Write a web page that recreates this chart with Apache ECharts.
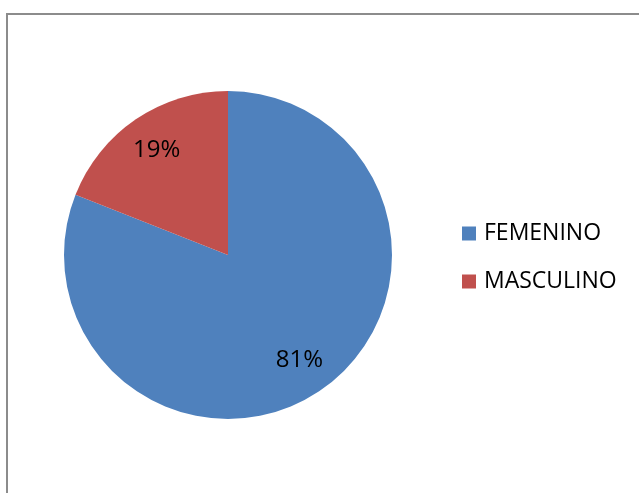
<!DOCTYPE html>
<html>
<head>
<meta charset="utf-8">
<script src="https://cdn.jsdelivr.net/npm/echarts@6/dist/echarts.min.js"></script>
<style>
  html, body { margin: 0; padding: 0; background: #fff; }
  #chart { width: 639px; height: 493px; }
</style>
</head>
<body>
<div id="chart"></div>
<script>
const categories = ['FEMENINO', 'MASCULINO']
const values = [81, 19]
const colors = ['#4F81BD', '#C0504D']

const font = '"Open Sans", sans-serif'
const pieData = categories.map((name, i) => ({ name, value: values[i] }))

const chart = echarts.init(document.getElementById('chart'))

chart.setOption({
  animation: false,
  color: colors,
  graphic: [{
    type: 'rect',
    shape: { x: 7, y: 14, width: 700, height: 600 },
    style: { fill: 'none', stroke: '#8c8c8c', lineWidth: 2 },
    silent: true
  }],
  legend: {
    orient: 'vertical',
    left: 462,
    top: 222,
    padding: 0,
    itemWidth: 14,
    itemHeight: 14,
    itemGap: 25,
    icon: 'rect',
    textStyle: { fontFamily: font, fontSize: 23, color: '#000', padding: [0, 0, 0, 3] },
    data: categories
  },
  series: [{
    // the visible pie
    type: 'pie',
    center: [228, 255],
    radius: [0, 164],
    startAngle: 90,
    clockwise: true,
    label: { show: false },
    labelLine: { show: false },
    itemStyle: { borderWidth: 0 },
    emphasis: { disabled: true },
    data: pieData
  }, {
    // transparent ring used only to place the percent labels further out
    type: 'pie',
    center: [228, 255],
    radius: [84, 164],
    startAngle: 90,
    clockwise: true,
    silent: true,
    itemStyle: { color: 'rgba(0,0,0,0)' },
    label: {
      show: true,
      position: 'inside',
      formatter: '{c}%',
      fontFamily: font,
      fontSize: 24,
      color: '#000'
    },
    labelLine: { show: false },
    emphasis: { disabled: true },
    data: pieData
  }]
})
</script>
</body>
</html>
